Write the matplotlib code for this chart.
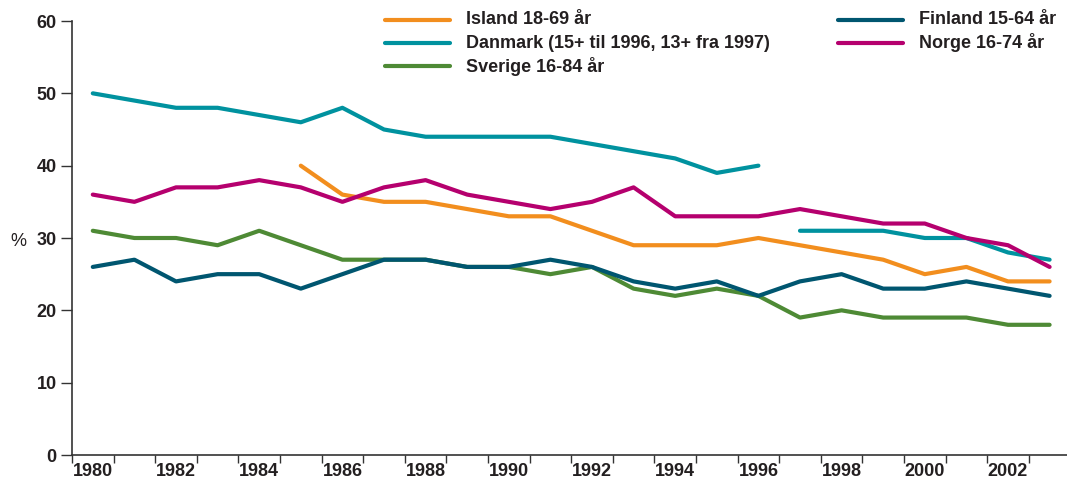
import numpy as np
import matplotlib
matplotlib.use("Agg")
import matplotlib.pyplot as plt
from matplotlib.lines import Line2D

plt.rcParams['font.family'] = ['Liberation Sans Narrow', 'Liberation Sans', 'DejaVu Sans']

years = list(range(1980, 2004))
island = [None]*5 + [40, 36, 35, 35, 34, 33, 33, 31, 29, 29, 29, 30, 29, 28, 27, 25, 26, 24, 24]
danmark = [50, 49, 48, 48, 47, 46, 48, 45, 44, 44, 44, 44, 43, 42, 41, 39, 40,
           31, 31, 31, 30, 30, 28, 27]
sverige = [31, 30, 30, 29, 31, 29, 27, 27, 27, 26, 26, 25, 26, 23, 22, 23, 22, 19, 20, 19, 19, 19, 18, 18]
finland = [26, 27, 24, 25, 25, 23, 25, 27, 27, 26, 26, 27, 26, 24, 23, 24, 22, 24, 25, 23, 23, 24, 23, 22]
norge = [36, 35, 37, 37, 38, 37, 35, 37, 38, 36, 35, 34, 35, 37, 33, 33, 33, 34, 33, 32, 32, 30, 29, 26]

labels = ["Island 18-69 år", "Danmark (15+ til 1996, 13+ fra 1997)", "Sverige 16-84 år",
          "Finland 15-64 år", "Norge 16-74 år"]
colors = ["#F28E1E", "#00929F", "#4E8A35", "#005670", "#B5006E"]
yticks = [0, 10, 20, 30, 40, 50, 60]

fig = plt.figure(figsize=(10.67, 4.90), dpi=100)
ax = fig.add_axes([72/1067, 35/490, 1 - 72/1067, (455-21)/490])

x = np.arange(len(years))

def arr(v):
    return np.array([np.nan if a is None else a for a in v], dtype=float)

# Danmark has a break between 1996 and 1997
dk = arr(danmark)
dk1 = dk.copy(); dk1[17:] = np.nan
dk2 = dk.copy(); dk2[:17] = np.nan

series = [(arr(island), colors[0]), (dk1, colors[1]), (dk2, colors[1]),
          (arr(sverige), colors[2]), (arr(finland), colors[3]), (arr(norge), colors[4])]
for y, c in series:
    ax.plot(x, y, color=c, lw=3, solid_capstyle='round', solid_joinstyle='round')

ax.set_ylim(0, 60)
ax.set_xlim(-0.5, -0.5 + (1067-72)/41.6)
ax.set_yticks(yticks)
ax.set_yticklabels([str(t) for t in yticks], fontweight='bold', fontsize=13, color='#231F20')
ax.tick_params(axis='y', direction='out', length=8, width=1, color='#333333', pad=3)

ax.set_xticks(x - 0.5)
ax.set_xticklabels([])
ax.tick_params(axis='x', which='major', direction='out', length=6, width=1, color='#333333')
ax.set_xticks(x[::2], minor=True)
ax.set_xticklabels([str(yv) for yv in years[::2]], minor=True, fontweight='bold', fontsize=13, color='#231F20')
ax.tick_params(axis='x', which='minor', length=0, pad=6)

for s in ['top', 'right']:
    ax.spines[s].set_visible(False)
for s in ['left', 'bottom']:
    ax.spines[s].set_color('#333333')
    ax.spines[s].set_linewidth(1.2)

fig.text(18/1067, 1 - 241/490, "%", fontsize=13, color='#231F20', ha='center', va='center')

# legend
leg_pos = [(385, 20), (385, 43), (385, 66), (838, 20), (838, 43)]
for (lx, ly), lab, c in zip(leg_pos, labels, colors):
    fig.add_artist(Line2D([lx/1067, (lx+65)/1067], [1-ly/490, 1-ly/490], color=c, lw=3,
                          solid_capstyle='round'))
    fig.text((lx+81)/1067, 1-ly/490, lab, fontsize=13, fontweight='bold', color='#231F20',
             ha='left', va='center')

fig.savefig("out.png", dpi=100)
